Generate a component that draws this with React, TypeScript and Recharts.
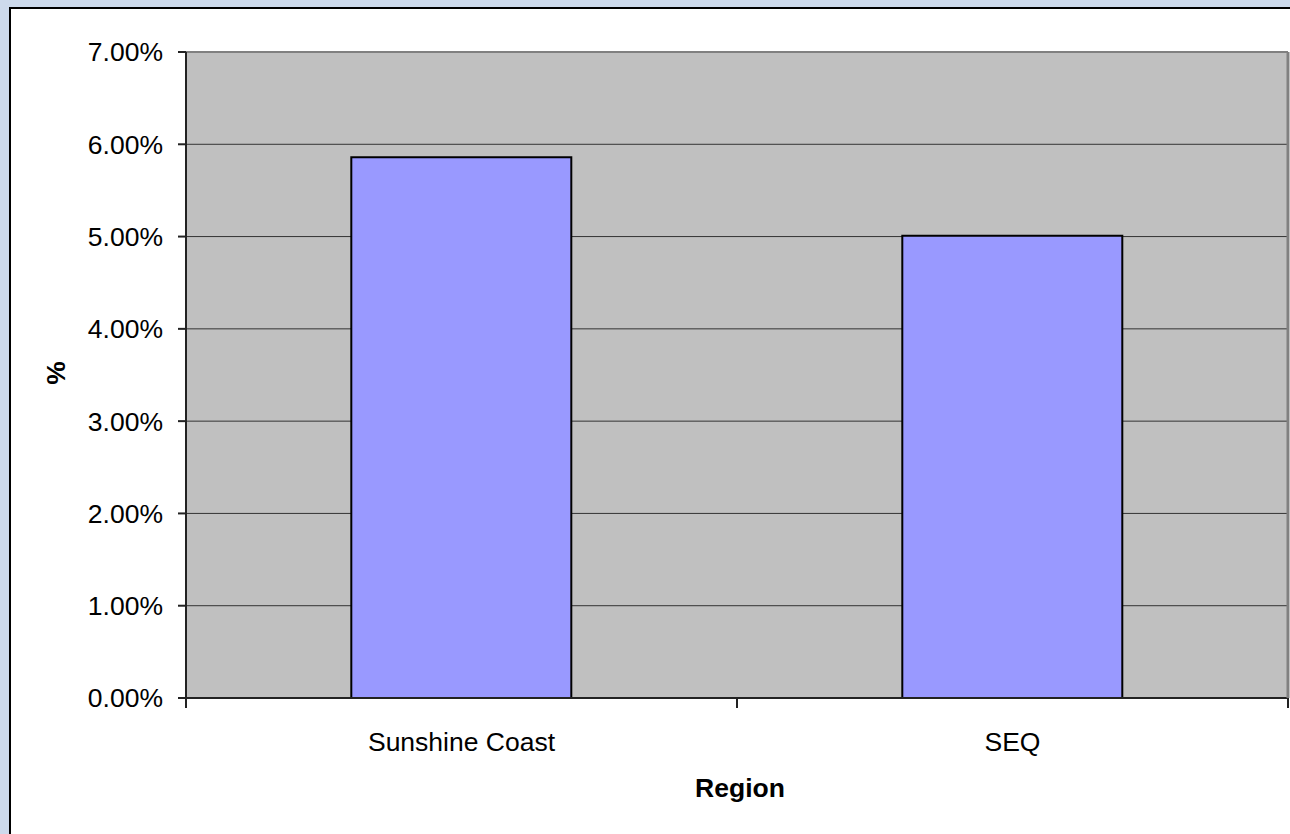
import { Bar, BarChart, CartesianGrid, Label, Text, XAxis, YAxis } from "recharts";

const regions = ["Sunshine Coast", "SEQ"];
const shares = [0.0586, 0.0501];
const yTicks = [0, 0.01, 0.02, 0.03, 0.04, 0.05, 0.06, 0.07];

const data = regions.map((region, i) => ({ region, share: shares[i] }));

const W = 1290;
const H = 834;
const PLOT_LEFT = 186;
const PLOT_RIGHT = 1288;
const PLOT_TOP = 52;
const PLOT_BOTTOM = 698;
const FONT = "'Liberation Sans', Arial, sans-serif";

const pct = (v: number) => `${(v * 100).toFixed(2)}%`;

// excel puts category ticks on band edges, recharts on centers
function CategoryTick(props: any) {
  const { x, y, payload, index } = props;
  const half = (PLOT_RIGHT - PLOT_LEFT) / regions.length / 2;
  return (
    <g>
      <line x1={x - half} x2={x - half} y1={PLOT_BOTTOM} y2={PLOT_BOTTOM + 10} stroke="#222" strokeWidth={2} />
      {index === regions.length - 1 && (
        <line x1={x + half} x2={x + half} y1={PLOT_BOTTOM} y2={PLOT_BOTTOM + 10} stroke="#222" strokeWidth={2} />
      )}
      <Text x={x} y={y} textAnchor="middle" verticalAnchor="start" fontSize={26.5} fontFamily={FONT} fill="#000">
        {payload.value}
      </Text>
    </g>
  );
}

function GridLine(props: any) {
  const { x1, x2, y1, y2 } = props;
  const top = Math.abs(y1 - PLOT_TOP) < 1;
  return (
    <line
      x1={x1}
      x2={x2}
      y1={y1}
      y2={y2}
      stroke={top ? "#808080" : "#333"}
      strokeWidth={top ? 2 : 1}
    />
  );
}

export default function App() {
  return (
    <div style={{ position: "absolute", left: 0, top: 0, width: W, height: H, background: "#cddaec", overflow: "hidden" }}>
      <div
        style={{
          position: "absolute",
          left: 9,
          top: 7,
          width: W,
          height: H,
          background: "#fff",
          borderLeft: "2px solid #000",
          borderTop: "2px solid #000",
        }}
      />
      <div style={{ position: "absolute", left: 0, top: 0 }}>
        <BarChart
          width={W}
          height={H}
          data={data}
          margin={{ top: PLOT_TOP, right: 0, bottom: 0, left: 0 }}
          barCategoryGap="30%"
        >
          <CartesianGrid vertical={false} fill="#c0c0c0" horizontal={(p: any) => <GridLine key={p.key ?? p.index} {...p} />} />
          <XAxis
            dataKey="region"
            height={H - PLOT_BOTTOM}
            tickLine={false}
            tickSize={10}
            tickMargin={24}
            axisLine={{ stroke: "#222", strokeWidth: 2 }}
            tick={<CategoryTick />}
            interval={0}
          >
            <Label
              content={({ viewBox }: any) => (
                <text
                  x={viewBox.x + viewBox.width / 2 + 3}
                  y={797}
                  textAnchor="middle"
                  fontSize={26.5}
                  fontWeight="bold"
                  fontFamily={FONT}
                  fill="#000"
                >
                  Region
                </text>
              )}
            />
          </XAxis>
          <YAxis
            width={PLOT_LEFT}
            domain={[0, 0.07]}
            ticks={yTicks}
            tickFormatter={pct}
            tickSize={8}
            tickMargin={15}
            tickLine={{ stroke: "#222", strokeWidth: 2 }}
            axisLine={{ stroke: "#222", strokeWidth: 2 }}
            tick={{ fontSize: 26.5, fill: "#000", fontFamily: FONT }}
            interval={0}
          >
            <Label
              content={() => (
                <text
                  transform="translate(56,373) rotate(-90)"
                  textAnchor="middle"
                  dominantBaseline="central"
                  fontSize={26.5}
                  fontWeight="bold"
                  fontFamily={FONT}
                  fill="#000"
                >
                  %
                </text>
              )}
            />
          </YAxis>
          <YAxis
            yAxisId="edge"
            orientation="right"
            width={W - PLOT_RIGHT}
            domain={[0, 0.07]}
            tick={false}
            tickLine={false}
            axisLine={{ stroke: "#808080", strokeWidth: 3 }}
          />
          <Bar dataKey="share" fill="#9999ff" stroke="#000" strokeWidth={2} isAnimationActive={false} />
        </BarChart>
      </div>
    </div>
  );
}
